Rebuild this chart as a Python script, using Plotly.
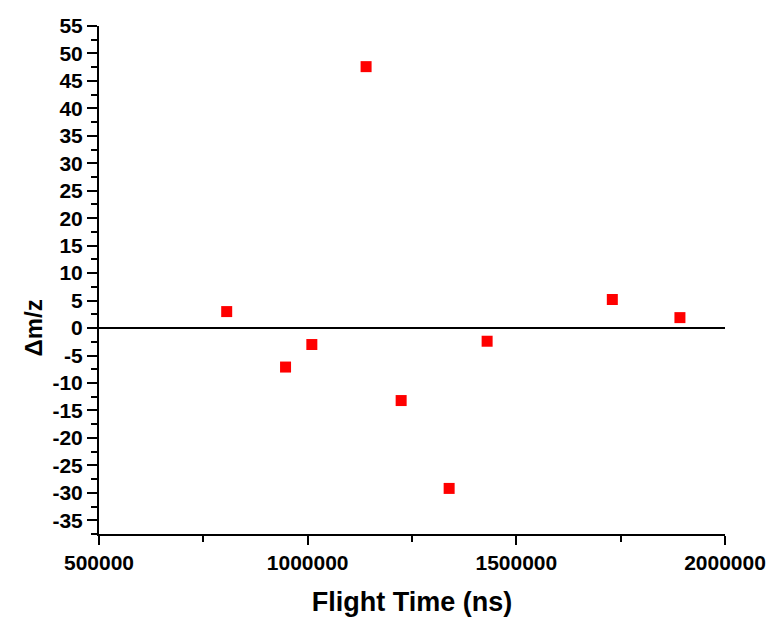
import plotly.graph_objects as go

flight_time_ns = [806000, 947000, 1010000, 1140000, 1224000, 1339000, 1430000, 1730000, 1892000]
delta_mz = [3.0, -7.1, -3.0, 47.6, -13.2, -29.2, -2.4, 5.2, 1.9]

x_ticks = [500000, 1000000, 1500000, 2000000]
y_ticks = list(range(-35, 56, 5))

FONT = "Liberation Sans, Arial, sans-serif"

fig = go.Figure()
fig.add_trace(go.Scatter(
    x=flight_time_ns, y=delta_mz, mode="markers",
    marker=dict(symbol="square", size=11, color="#ff0000", line=dict(width=0)),
    showlegend=False,
))

fig.update_layout(
    width=758, height=609,
    margin=dict(l=91, r=41, t=18, b=83),
    paper_bgcolor="white", plot_bgcolor="white",
    font=dict(family=FONT, color="black"),
    xaxis=dict(
        range=[500000, 2000000], tickvals=x_ticks, ticktext=[str(v) for v in x_ticks],
        automargin=False,
        showline=True, linecolor="black", linewidth=2, showgrid=False, zeroline=False,
        ticks="outside", ticklen=9, tickwidth=2, tickcolor="black",
        minor=dict(ticks="outside", ticklen=6, tickwidth=2, tickcolor="black",
                   tick0=500000, dtick=250000, showgrid=False),
        tickfont=dict(size=21, family=FONT, weight="bold"),
        title=dict(text="Flight Time (ns)", font=dict(size=27, family=FONT, weight="bold"), standoff=20),
    ),
    yaxis=dict(
        range=[-37.5, 55], tickvals=y_ticks, ticktext=[str(v) for v in y_ticks],
        automargin=False,
        showline=True, linecolor="black", linewidth=2, showgrid=False,
        zeroline=True, zerolinecolor="black", zerolinewidth=2,
        ticks="outside", ticklen=10, tickwidth=2, tickcolor="black",
        minor=dict(ticks="outside", ticklen=6, tickwidth=2, tickcolor="black",
                   tick0=0, dtick=2.5, showgrid=False),
        tickfont=dict(size=21, family=FONT, weight="bold"),
    ),
)

fig.add_annotation(
    text="Δm/z", xref="paper", yref="y", x=0, y=0, xshift=-50,
    xanchor="right", yanchor="middle", showarrow=False, textangle=-90,
    font=dict(size=24, family=FONT, weight="bold", color="black"),
)

fig.write_html("out.html")
